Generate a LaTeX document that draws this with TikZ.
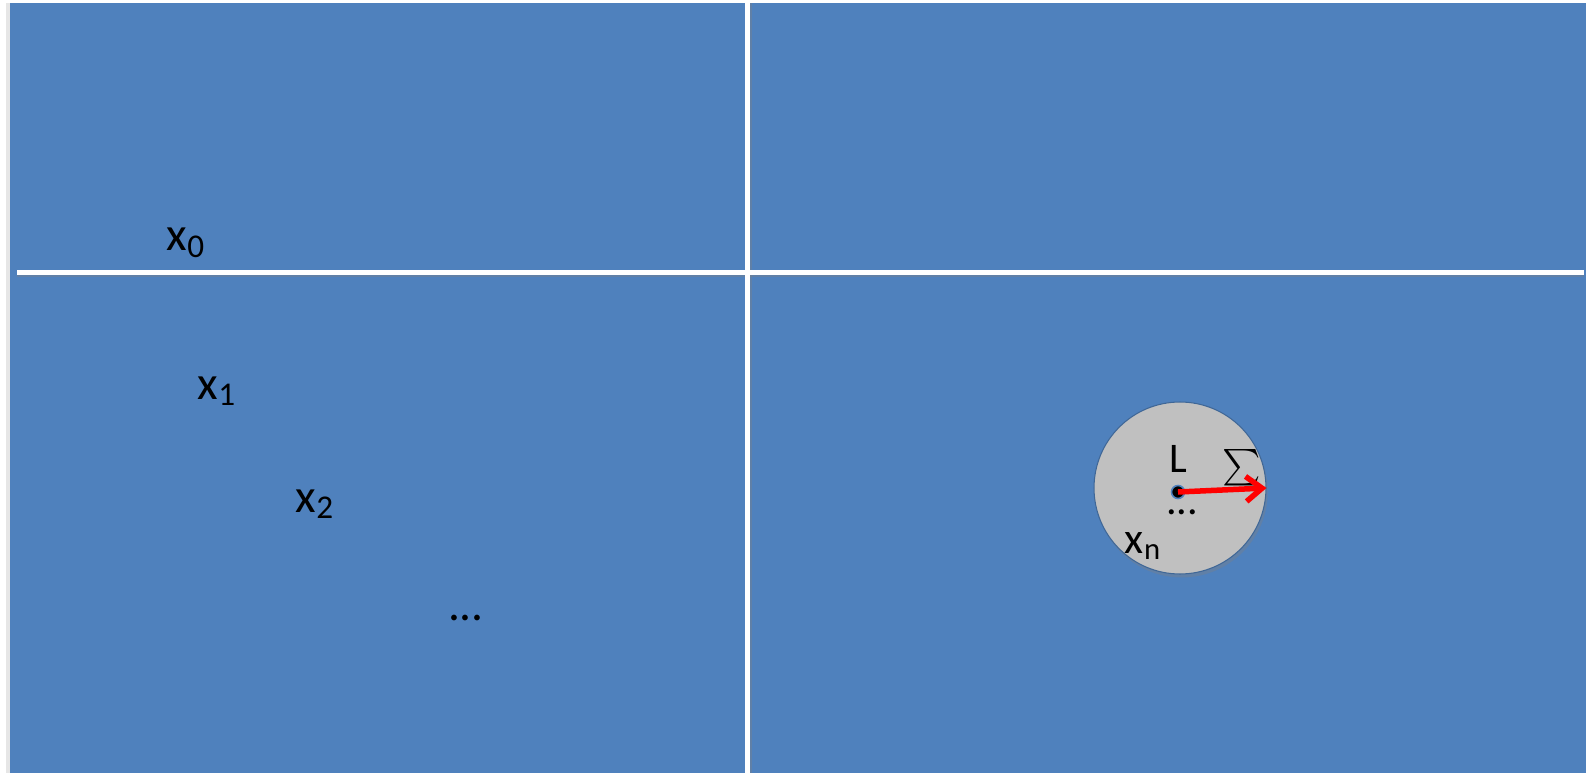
\documentclass[tikz,border=0pt]{standalone}
\usepackage{amsmath}
\usepackage{fontspec}
\setmainfont{Carlito}
\usetikzlibrary{arrows.meta,positioning,shadows}
\definecolor{slideblue}{HTML}{4F81BD}
\definecolor{ballgray}{HTML}{C0C0C0}
\tikzset{
  lbl/.style={font=\fontsize{27}{30}\selectfont,inner sep=0pt},
  small lbl/.style={font=\fontsize{24}{27}\selectfont,inner sep=0pt},
  grid/.style={white,line width=0.1cm},
  grid shade/.style={black!50,opacity=0.35,line width=0.07cm},
}

\begin{document}
\begin{tikzpicture}[x=0.02cm,y=-0.02cm]
  \useasboundingbox (0,0) rectangle (1587,774);
  \fill[slideblue,drop shadow={shadow xshift=-2pt,shadow yshift=0pt,opacity=0.2}] (10,3) rectangle (1586,773);
  % grid lines
  \draw[grid shade] (750,3) -- (750,773);
  \draw[grid shade] (17,275) -- (1584,275);
  \draw[grid] (747,3) -- (747,773);
  \draw[grid] (17,272) -- (1584,272);
  % sequence
  \node[lbl] (x0) at (186,243) {x\textsubscript{0}};
  \node[lbl] (x1) at (217,391) {x\textsubscript{1}};
  \node[lbl] (x2) at (315,504) {x\textsubscript{2}};
  \node[lbl] (dots) at (466,618) {...};
  % ball around the limit
  \node[circle,fill=ballgray,draw=slideblue!80!black,line width=0.6pt,minimum size=3.44cm,
        drop shadow={shadow xshift=1pt,shadow yshift=-2pt,opacity=0.35}] (ball) at (1180,488) {};
  \node[circle,fill=black,draw=slideblue,line width=0.9pt,minimum size=0.26cm,inner sep=0pt] (lim) at (1178,492) {};
  \node[small lbl] (L) at (1178,459) {L};
  \node[font=\fontsize{21}{24}\selectfont,inner sep=0pt] (sig) at (1242,468) {$\sum$};
  \node[small lbl] (bdots) at (1182,512) {...};
  \node[lbl,font=\fontsize{25}{28}\selectfont] (xn) at (1143,546) {x\textsubscript{n}};
  \draw[red,line width=0.11cm,-{Straight Barb[length=0.32cm,width=0.5cm]}] (lim.center) -- (ball.east);
\end{tikzpicture}
\end{document}
